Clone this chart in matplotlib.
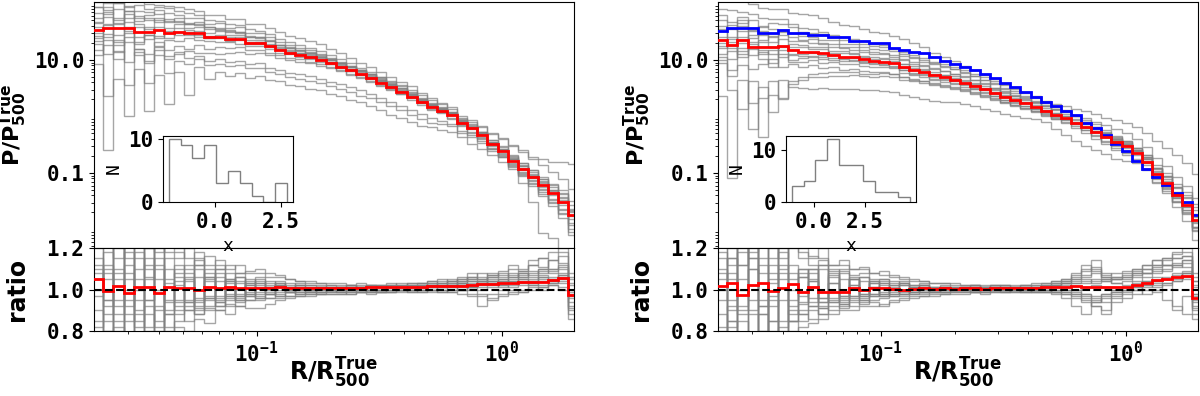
import numpy as np
import matplotlib
matplotlib.use("Agg")
import matplotlib.pyplot as plt
from matplotlib.ticker import FormatStrFormatter, LogLocator, NullFormatter

# --- bins radiaux (R/R500), 48 bins log ---
bords_r = np.geomspace(0.0216, 2.045, 49)

# profils moyens (P/P500)
rouge_g = [33.9, 36.3, 36.3, 36.3, 30.9, 30.9, 33.9, 29.5,
           30.9, 30.2, 29.5, 25.7, 25.7, 23.4, 23.4, 20.0,
           20.0, 17.4, 15.1, 13.5, 12.3, 11.2, 10.0, 8.71,
           7.59, 6.61, 5.62, 4.79, 3.98, 3.31, 2.75, 2.24,
           1.82, 1.48, 1.26, 1.07, 0.776, 0.617, 0.468, 0.324,
           0.240, 0.166, 0.120, 0.0851, 0.0617, 0.0437, 0.0309, 0.0182]
rouge_d = [22.6, 18.4, 22.6, 17.2, 16.8, 16.8, 17.8, 15.1,
           14.1, 14.1, 13.2, 12.3, 11.5, 11.2, 10.2, 9.55,
           9.33, 8.71, 7.41, 6.61, 6.03, 5.37, 4.90, 4.47,
           3.98, 3.47, 3.02, 2.63, 2.24, 1.95, 1.70, 1.48,
           1.26, 1.07, 0.933, 0.776, 0.646, 0.537, 0.437, 0.355,
           0.295, 0.224, 0.158, 0.0977, 0.0661, 0.0407, 0.0269, 0.0148]
bleu_d = [33.1, 36.3, 36.3, 36.3, 30.2, 30.2, 33.9, 29.5,
          29.5, 27.5, 27.5, 25.1, 25.1, 21.9, 21.9, 20.0,
          20.0, 16.2, 15.1, 14.1, 13.2, 11.5, 9.77, 8.51,
          7.59, 6.61, 5.62, 4.79, 3.98, 3.31, 2.75, 2.24,
          1.82, 1.55, 1.26, 1.07, 0.776, 0.617, 0.468, 0.324,
          0.240, 0.166, 0.120, 0.0851, 0.0617, 0.0437, 0.0309, 0.0182]

# rapports moyens
ratio_rouge_g = [1.05, 0.993, 1.018, 0.985, 1.01, 1.01, 0.982, 1.01,
                 1.005, 1.005, 1.0, 1.01, 1.005, 1.01, 1.005, 1.008,
                 1.005, 1.005, 1.01, 1.005, 1.005, 1.005, 1.005, 1.005,
                 1.005, 1.005, 1.005, 1.01, 1.01, 1.01, 1.012, 1.012,
                 1.012, 1.015, 1.015, 1.018, 1.018, 1.02, 1.025, 1.028,
                 1.03, 1.03, 1.035, 1.037, 1.037, 1.045, 1.055, 0.974]
ratio_rouge_d = [1.016, 1.033, 0.975, 1.02, 1.033, 0.992, 1.008, 1.025,
                 0.99, 1.01, 0.99, 0.99, 0.99, 1.008, 0.997, 1.008,
                 1.008, 1.003, 1.0, 1.003, 1.005, 1.003, 1.005, 1.003,
                 1.005, 1.005, 1.003, 1.005, 1.008, 1.008, 1.005, 1.008,
                 1.01, 1.01, 1.012, 1.016, 1.012, 1.012, 1.012, 1.01,
                 1.012, 1.02, 1.033, 1.046, 1.052, 1.062, 1.066, 0.96]

# profils individuels : ecart au profil rouge en centiemes de dex
ecarts_g = [
    [30, 25, 34, 18, 28, 22, 15, 26, 20, 18, 15, 17, 12, 14, 10, 11, 9, 10, 8, 9, 7, 8, 6, 7,
     6, 5, 6, 5, 4, 5, 4, 5, 4, 5, 6, 5, 6, 7, 6, 8, 9, 8, 10, 12, 11, 14, 13, 18],
    [12, 20, 8, 25, 15, 5, 22, 10, 14, 8, 12, 6, 10, 7, 8, 5, 6, 4, 5, 3, 4, 3, 4, 3,
     3, 2, 3, 2, 3, 2, 2, 3, 2, 3, 4, 3, 4, 3, 5, 4, 5, 4, 6, 5, 7, 6, 8, 9],
    [-5, 8, -12, 2, -8, 10, -15, 0, -4, 2, -6, -2, 0, -3, -1, -2, -1, -2, 0, -1, 0, -1, 0, -1,
     0, -1, 0, 0, 1, 0, 1, 0, 1, 0, 1, 2, 1, 2, 3, 2, 3, 2, 4, 3, 5, 4, 6, 5],
    [-20, -10, -25, -8, -18, -5, -28, -12, -15, -10, -12, -8, -10, -6, -8, -5, -6, -4, -5, -3, -4, -3, -3, -2,
     -3, -2, -2, -2, -1, -2, -1, -1, -2, -1, -2, -1, -3, -2, -3, -4, -5, -4, -6, -8, -7, -10, -12, -15],
    [40, 32, 45, 30, 38, 35, 28, 36, 30, 26, 28, 22, 24, 20, 21, 18, 17, 16, 14, 13, 12, 12, 10, 10,
     9, 8, 8, 7, 7, 6, 6, 5, 5, 4, 5, 4, 3, 4, 3, 2, 2, 3, 1, 2, 3, 5, 4, 6],
    [-35, -20, -42, -15, -30, -38, -22, -30, -25, -28, -20, -22, -18, -16, -14, -13, -12, -11, -10, -9, -8, -8, -7, -7,
     -6, -6, -5, -5, -4, -4, -4, -3, -3, -4, -3, -5, -4, -6, -5, -7, -8, -9, -11, -13, -16, -18, -22, -26],
    [22, 38, 15, 40, 25, 30, 35, 20, 25, 15, 20, 18, 14, 16, 12, 13, 11, 10, 9, 8, 8, 7, 7, 6,
     6, 5, 5, 4, 4, 3, 3, 2, 2, 1, 2, 1, 0, 1, 0, -1, -2, -1, -3, -2, -4, -3, -6, -8],
    [5, -15, 18, -5, 10, -12, 5, -8, 8, -4, 5, -2, 4, -1, 3, 0, 2, 1, 2, 1, 1, 2, 1, 2,
     1, 2, 1, 2, 2, 3, 2, 3, 3, 4, 3, 5, 4, 6, 5, 7, 8, 10, 9, 12, 14, 16, 20, 24],
    [50, 45, 55, 38, 48, 42, 40, 45, 38, 35, 33, 30, 28, 27, 25, 24, 22, 21, 20, 18, 17, 16, 15, 14,
     13, 12, 11, 10, 9, 8, 7, 6, 5, 6, 5, 4, 3, 3, 2, 2, 1, 2, 0, 1, -1, 0, -2, -3],
    [-45, -30, -55, -25, -40, -50, -35, -45, -38, -32, -35, -28, -30, -25, -22, -20, -18, -16, -15, -13, -12, -11, -10, -9,
     -8, -8, -7, -7, -6, -6, -5, -5, -5, -6, -4, -7, -6, -8, -7, -9, -10, -12, -14, -16, -19, -22, -28, -35],
    [-60, -215, -90, -155, -65, -140, -80, -125, -70, -110, -60, -75, -62, -66, -60, -62, -58, -60, -56, -58, -55, -56, -54, -55,
     -52, -53, -50, -50, -48, -49, -46, -44, -42, -36, -34, -30, -25, -28, -24, -20, -18, -15, -25, -45, -85, -80, -120, -150],
    [-25, -120, -40, -100, -30, -90, -45, -70, -50, -55, -45, -50, -48, -47, -46, -45, -44, -45, -43, -44, -42, -43, -41, -40,
     -40, -38, -38, -36, -35, -34, -33, -32, -30, -28, -24, -20, -18, -16, -14, -12, -10, -8, -9, -10, -12, -15, -20, -30],
    [-10, -45, -20, -60, -35, -55, -30, -40, -35, -45, -40, -42, -40, -41, -39, -38, -36, -38, -35, -36, -34, -34, -33, -33,
     -30, -30, -29, -28, -27, -26, -25, -24, -22, -20, -18, -16, -14, -12, -10, -8, -7, -6, -8, -6, -9, -12, -14, -18],
    [40, 50, 45, 55, 55, 50, 45, 48, 45, 42, 40, 38, 38, 36, 35, 34, 33, 32, 31, 30, 30, 29, 28, 26,
     24, 22, 20, 19, 18, 18, 17, 19, 16, 15, 12, 10, 9, 12, 15, 18, 22, 28, 32, 36, 45, 55, 70, 90],
    [15, 28, 10, 30, 20, 25, 18, 22, 18, 16, 17, 14, 15, 12, 13, 11, 10, 11, 9, 10, 8, 9, 8, 8,
     7, 8, 7, 8, 9, 10, 11, 12, 12, 13, 14, 13, 12, 14, 16, 20, 24, 26, 30, 32, 35, 38, 40, 45],
    [-15, 5, -30, 12, -20, -5, -10, 5, 0, 5, -3, 2, -2, 3, 0, 1, 2, 3, 3, 4, 4, 5, 5, 6,
     5, 6, 7, 8, 8, 9, 10, 8, 7, 5, 4, 3, 2, 1, 2, 3, 4, 6, 5, 8, 10, 12, 15, 10],
]
ecarts_d = [
    [70, 78, 72, 75, 70, 68, 65, 66, 66, 64, 62, 58, 56, 55, 54, 52, 50, 49, 50, 48, 45, 40, 36, 33,
     30, 28, 26, 24, 22, 21, 20, 19, 18, 20, 22, 25, 28, 31, 34, 38, 42, 46, 50, 58, 62, 70, 75, 82],
    [55, 62, 50, 58, 52, 50, 48, 45, 42, 40, 38, 36, 35, 33, 32, 30, 29, 28, 27, 26, 25, 24, 24, 23,
     22, 22, 21, 20, 20, 19, 18, 17, 16, 15, 14, 12, 10, 9, 8, 7, 6, 5, 8, 10, 12, 15, 18, 22],
    [-100, -235, -70, -145, -90, -60, -95, -55, -45, -40, -35, -30, -28, -26, -25, -22, -20, -18, -17, -16, -15, -14, -13, -12,
     -12, -11, -10, -10, -9, -9, -8, -8, -7, -7, -6, -6, -5, -6, -7, -8, -9, -10, -12, -15, -18, -22, -28, -35],
    [-40, -80, -123, -60, -158, -85, -92, -60, -50, -45, -42, -38, -35, -32, -30, -28, -26, -24, -22, -20, -19, -18, -17, -16,
     -15, -14, -13, -12, -11, -10, -10, -9, -9, -8, -9, -10, -11, -12, -13, -14, -15, -14, -12, -10, -8, -10, -12, -15],
    [-30, -55, -45, -100, -70, -115, -60, -65, -64, -66, -62, -60, -58, -56, -54, -52, -52, -50, -49, -48, -47, -45, -43, -40,
     -38, -36, -34, -32, -30, -28, -26, -22, -20, -25, -30, -32, -34, -32, -31, -30, -25, -18, -12, -8, -6, -5, -8, -12],
    [35, 28, 40, 30, 38, 32, 26, 30, 28, 25, 24, 26, 23, 24, 22, 22, 21, 22, 20, 21, 19, 20, 18, 19,
     17, 18, 16, 17, 15, 16, 14, 15, 14, 13, 12, 11, 10, 9, 7, 5, 2, 0, -2, -4, -5, -4, -3, 0],
    [20, 35, 15, 28, 22, 18, 25, 15, 18, 15, 16, 14, 15, 13, 14, 12, 13, 12, 13, 11, 12, 11, 12, 10,
     11, 10, 11, 9, 10, 9, 10, 8, 9, 8, 7, 6, 5, 4, 3, 2, 1, 3, 5, 8, 10, 12, 15, 18],
    [5, 15, -5, 20, 10, 0, 12, 5, 8, 5, 7, 4, 6, 5, 5, 4, 5, 4, 5, 3, 4, 3, 4, 3,
     3, 4, 3, 4, 3, 3, 2, 3, 2, 3, 4, 5, 6, 6, 7, 8, 9, 10, 12, 10, 8, 6, 4, 5],
    [-10, 5, -20, 8, -5, -12, 0, -8, -5, -2, -4, 0, -3, -1, -2, 0, -1, 0, -1, 0, 0, 1, 0, 1,
     0, 1, 0, 1, 1, 0, 1, 0, 0, -1, 0, -1, 0, 1, 2, 3, 5, 6, 4, 2, 0, -2, -4, -6],
    [-25, -10, -30, -5, -20, -28, -15, -22, -18, -15, -17, -13, -14, -12, -12, -10, -10, -9, -10, -8, -9, -8, -8, -7,
     -7, -6, -6, -5, -5, -4, -4, -3, -3, -2, -2, -1, 0, 0, 1, 2, 3, 4, 2, 0, -2, -5, -8, -12],
    [15, -5, 25, 0, 12, 20, -8, 10, 12, 8, 10, 7, 9, 8, 7, 8, 7, 8, 6, 7, 6, 6, 5, 6,
     5, 5, 6, 6, 7, 7, 8, 8, 9, 10, 11, 12, 12, 13, 12, 11, 10, 9, 7, 5, 3, 1, 0, -3],
    [-35, -45, -15, -40, -30, -20, -38, -25, -28, -24, -26, -22, -23, -21, -20, -19, -19, -18, -18, -17, -16, -16, -15, -14,
     -14, -13, -12, -11, -10, -9, -8, -7, -6, -5, -4, -3, -2, -1, 0, 2, 4, 6, 8, 10, 12, 14, 12, 10],
    [45, 40, 30, 48, 35, 42, 38, 40, 35, 33, 34, 31, 30, 29, 28, 27, 26, 25, 24, 23, 22, 21, 20, 19,
     18, 17, 16, 15, 14, 13, 12, 11, 10, 11, 12, 14, 16, 18, 20, 22, 24, 25, 26, 28, 30, 32, 34, 38],
    [-5, -25, 5, -15, -8, -35, -2, -18, -12, -8, -10, -6, -8, -5, -6, -4, -4, -5, -4, -5, -3, -4, -3, -3,
     -2, -3, -2, -2, -1, -1, 0, -1, 0, -1, -2, -3, -5, -7, -9, -11, -12, -14, -15, -16, -14, -12, -15, -20],
    [25, 10, 35, 15, 28, 10, 20, 22, 20, 22, 18, 19, 17, 18, 16, 16, 15, 15, 14, 14, 13, 12, 12, 11,
     10, 10, 9, 8, 8, 7, 6, 6, 5, 4, 3, 2, 1, 0, -1, -2, -3, -4, -6, -8, -10, -12, -14, -18],
    [-15, 0, -25, 5, -12, -5, -20, -10, -8, -10, -6, -9, -5, -7, -4, -6, -6, -7, -5, -6, -5, -6, -5, -6,
     -5, -6, -5, -6, -5, -5, -4, -4, -4, -3, -2, -1, 0, 1, 3, 5, 7, 9, 12, 15, 18, 20, 24, 28],
]

# rapports individuels : ecart a 1 en pourcent
rapports_g = [
    [15, -8, 22, -12, 18, -5, 25, -10, 12, -6, 14, -4, 10, -3, 8, -2, 6, -1, 4, 1, 3, 2, 2, 1,
     1, 2, 1, 1, 2, 1, 2, 1, 2, 3, 2, 4, 3, 5, 4, 6, 5, 7, 6, 8, 9, 8, 10, -4],
    [-18, 12, -25, 8, -15, 20, -10, 15, -10, 8, -12, 6, -8, 5, -5, 4, -4, 3, -3, 2, -2, -1, -2, 0,
     -1, 0, -1, 0, 0, 1, 0, 1, 1, 2, 1, 2, 3, 2, 3, 4, 3, 4, 5, 4, 6, 5, 7, -8],
    [5, 25, -5, 18, 0, -20, 12, -6, 4, -10, 10, -8, 6, -5, 4, -3, 3, -2, 2, -1, 1, 0, 1, 0,
     0, 1, 0, -1, 0, 1, 1, 2, 1, 2, 2, 3, 2, 4, 3, 5, 4, 6, 8, 7, 10, 9, 12, 2],
    [-30, -15, 10, -25, 5, -12, -22, 3, -8, -15, -4, -10, -6, -8, -4, -5, -3, -4, -2, -3, -1, -2, -1, -1,
     -1, -2, -1, 0, -1, 0, 0, -1, 0, 1, 0, 1, 2, 1, 2, 3, 2, 3, 4, 3, 5, 4, 6, -12],
    [20, 30, 15, 28, 22, 10, 30, 18, 15, 20, 12, 16, 10, 12, 8, 9, 10, 8, 7, 5, 4, 3, 3, 2,
     2, 2, 1, 2, 1, 2, 2, 3, 3, 4, 5, 4, 6, 5, 8, 7, 9, 12, 10, 14, 15, 18, 20, 5],
    [-10, -28, -18, -30, -12, -25, -8, -20, -15, -10, -12, -9, -10, -7, -8, -5, -5, -4, -4, -3, -3, -2, -2, -2,
     -2, -1, -1, -2, -1, -1, 0, -1, -1, 0, -1, 0, 1, 0, -2, -5, -3, -1, 0, 2, 1, 3, 4, -10],
    [8, -5, 5, -15, 25, 6, -18, 10, 6, 4, -6, 8, -4, 5, -3, 3, 2, 1, 2, 0, 1, 0, 1, 1,
     1, 1, 2, 2, 1, 2, 1, 2, 2, 3, 3, 4, 4, 6, 5, 7, 6, 8, 7, 9, 8, 10, 11, -2],
    [-3, 10, -8, 5, -22, 15, 0, -12, 2, -5, 6, -3, 4, -2, 3, -1, 1, 0, 1, -1, 0, 1, 0, 0,
     0, 0, 1, 0, 1, 0, 1, 1, 1, 1, 2, 2, 3, 3, 4, 4, 5, 4, 6, 5, 7, 6, 8, 0],
    [28, 5, 20, -5, 10, 25, 5, 22, 18, 10, 12, 5, 8, 4, 6, 3, 4, 2, 3, 1, 2, 1, 1, 1,
     1, 0, 1, 1, 0, 1, 1, 0, 1, 2, 1, 2, 5, 8, 6, 4, 3, 5, 8, 6, 10, 14, 16, 8],
    [-22, -5, -28, 0, -18, -8, -25, -12, -12, -6, -9, -4, -6, -3, -5, -2, -2, -2, -1, -1, -1, -1, 0, -1,
     0, -1, 0, 0, -1, 0, 0, 0, 0, 0, 1, 1, 0, 1, 1, 2, 1, 2, 2, 3, 2, 4, 3, -6],
    [12, -20, 30, -8, 15, -18, 20, -25, 10, -8, 15, -5, 12, -4, 6, -3, 5, -2, 3, -1, 2, -1, 1, 0,
     1, 0, 1, 0, 1, 1, 1, 1, 2, 1, 3, 2, 3, 2, 4, 3, 4, 3, 5, 4, 6, 5, 7, -1],
    [0, 18, -12, 25, -5, 12, -15, 5, -5, 6, -8, 10, -5, 4, -3, 2, -1, 1, 0, 1, 0, 0, -1, 0,
     0, 1, 0, 0, 0, -1, 0, 0, -1, 0, 0, -1, -2, -3, -8, -4, -2, 0, -1, 1, 0, 2, 1, -14],
    [35, 22, 28, 15, 30, 20, 18, 25, 20, 15, 18, 12, 14, 10, 12, 8, 8, 6, 6, 5, 4, 4, 3, 3,
     3, 2, 3, 2, 2, 3, 2, 3, 3, 4, 3, 5, 4, 6, 5, 8, 7, 10, 9, 12, 11, 14, 13, 3],
    [-35, -20, -15, -28, -25, -30, -20, -28, -18, -20, -14, -16, -10, -12, -8, -9, -9, -7, -5, -4, -3, -3, -2, -2,
     -2, -2, -1, -1, -1, -1, -1, 0, 0, -1, 0, -1, 0, 1, 0, 1, 2, 1, 3, 2, 4, 3, 5, -3],
    [10, -12, 8, 22, -10, 5, 15, -5, 8, 12, -5, 6, -3, 8, -2, 5, 3, 4, 2, 3, 2, 2, 1, 2,
     1, 2, 1, 2, 2, 2, 3, 2, 3, 2, 4, 3, 5, 4, 3, 6, 8, 6, 9, 12, 15, 10, 18, 6],
    [-15, 8, -20, 12, -25, -5, 10, -18, -6, 5, -10, 4, -8, 3, -6, 2, -4, 1, -3, 0, -2, 0, -1, 0,
     -1, 0, 0, -1, 0, 0, 0, 0, 0, 0, -1, 0, 0, -2, -3, -2, 0, -2, -1, 0, 1, 2, 0, -9],
]
rapports_d = [
    [18, -10, 25, -5, 12, -15, 20, -8, 10, -6, 12, -4, 8, -3, 6, -2, 5, -3, 4, -2, 3, -1, 2, 0,
     1, 1, 0, 1, 1, 0, 1, 1, 2, 3, 4, 6, 10, 14, 6, 3, 2, 4, 6, 8, 10, 12, 14, -5],
    [-20, 15, -10, 22, -25, 8, -15, 12, -12, 10, -8, 6, -6, 5, -4, 3, -3, 2, -2, 1, -1, 0, -1, 0,
     0, -1, 0, 0, -1, 0, 0, -1, -1, -2, -4, -8, -12, -6, -3, -1, 0, 2, 4, 3, 6, 5, 8, -10],
    [5, 28, 0, 15, -8, 20, 5, -12, 6, -4, 10, -6, 5, -3, 4, -2, 2, -1, 2, -1, 1, 0, 1, 0,
     1, 0, 1, 0, 1, 1, 1, 0, 1, 2, 3, 4, 5, 3, 4, 5, 5, 7, 8, 10, 9, 12, 11, 1],
    [-30, -18, 5, -22, -12, -28, -5, -25, -15, -10, -12, -8, -9, -6, -7, -5, -4, -3, -3, -2, -2, -1, -1, -1,
     -1, 0, -1, 0, 0, -1, 0, 0, 0, -1, -2, -3, -5, -8, -10, -4, -2, 0, 2, 1, 3, -8, -12, -14],
    [25, 12, 30, 18, 28, 15, 22, 30, 18, 15, 20, 12, 14, 10, 11, 8, 9, 7, 6, 5, 4, 3, 3, 2,
     2, 2, 1, 2, 2, 1, 2, 2, 3, 4, 5, 8, 12, 9, 6, 5, 6, 8, 10, 12, 14, 15, 16, 6],
    [-12, -25, -15, -30, -8, -22, -18, -10, -12, -14, -9, -10, -7, -8, -5, -6, -8, -5, -4, -3, -3, -2, -2, -1,
     -1, -1, -2, -1, -1, 0, -1, -1, -1, 0, 1, 0, -2, -4, -6, -3, 0, 1, 2, 4, 5, 7, 8, -6],
    [10, -5, 18, 2, 30, -8, 12, 5, 8, 5, -4, 7, -3, 5, -2, 4, 3, 2, 3, 1, 2, 1, 1, 1,
     1, 2, 1, 2, 1, 1, 1, 2, 2, 2, 3, 3, 4, 5, 4, 5, 6, 9, 8, 11, 12, 13, 14, 2],
    [-5, 8, -12, 10, -20, 5, -25, 0, -3, 4, -6, 3, -4, 2, -3, 1, -1, 0, -1, 0, -1, 0, 0, 0,
     0, 0, 0, 1, 0, 0, 1, 0, 0, 1, 0, -1, -3, -5, -2, 0, 1, 3, 4, 6, 5, 8, 9, -2],
    [30, 20, 12, 28, 8, 25, 15, 20, 15, 12, 14, 9, 10, 7, 8, 5, 5, 4, 3, 2, 2, 1, 1, 1,
     1, 1, 1, 0, 1, 1, 0, 1, 1, 2, 3, 5, 7, 10, 5, 3, 4, 6, 8, 12, 15, 17, 18, 8],
    [-25, -8, -30, -12, -20, -5, -28, -15, -10, -8, -12, -5, -7, -4, -6, -3, -2, -2, -2, -1, -1, -1, -1, 0,
     0, 0, -1, 0, 0, 0, -1, 0, 0, -1, -1, -2, -2, -3, -2, -1, 0, 1, -2, 0, -5, -10, -3, -8],
    [15, -22, 22, -10, 15, -20, 25, -15, 10, -8, 12, -6, 9, -5, 6, -3, 4, -2, 3, -1, 2, -1, 1, 0,
     0, 1, 0, 1, 0, 1, 0, 1, 1, 2, 2, 3, 3, 4, 5, 6, 7, 8, 10, 9, 12, 11, 13, -3],
    [0, 15, -8, 25, -5, 12, -20, 8, -6, 8, -6, 10, -5, 5, -3, 3, -2, 1, 0, 1, 0, 0, 0, 0,
     0, 0, 1, 0, 0, -1, 0, 0, 0, -1, -2, -4, -6, -8, -12, -6, -4, -2, 0, -1, 2, 4, 5, -12],
    [35, 25, 20, 15, 22, 30, 10, 28, 20, 16, 15, 12, 12, 10, 10, 8, 7, 6, 5, 4, 4, 3, 3, 3,
     2, 2, 2, 2, 2, 2, 2, 3, 3, 4, 5, 7, 9, 11, 8, 6, 8, 10, 12, 14, 15, 18, 20, 4],
    [-35, -15, -22, -25, -30, -15, -25, -20, -18, -16, -14, -12, -10, -10, -8, -8, -7, -6, -5, -4, -3, -3, -2, -2,
     -2, -1, -1, -1, -1, 0, -1, 0, 0, 0, -1, -2, -4, -6, -4, -2, -1, 0, 1, 2, 3, 4, 6, -9],
    [8, -15, 12, 20, -12, 3, 18, -5, 6, 10, -4, 8, -3, 6, -2, 4, 3, 3, 2, 2, 2, 1, 1, 1,
     1, 2, 1, 1, 2, 1, 2, 1, 2, 3, 4, 5, 6, 8, 7, 8, 9, 10, 12, 14, 12, 15, 16, 4],
    [-18, 5, -25, 10, -22, -3, 8, -15, -7, 4, -9, 3, -8, 2, -5, 1, -3, 0, -2, 0, -1, 0, -1, 0,
     0, -1, 0, 0, 0, 0, 0, -1, -1, -1, 0, 0, 1, 2, 1, 0, 1, 2, 3, 4, 5, 6, 8, -2],
]

# histogrammes des encarts
bords_x_g = [-1.73, -1.28, -0.84, -0.39, 0.05, 0.50, 0.95, 1.39, 1.84, 2.28, 2.73]
n_g = [10, 9, 7, 9, 3, 5, 3, 1, 0, 3]
bords_x_d = [-1.05, -0.48, 0.09, 0.67, 1.24, 1.81, 2.38, 2.95, 3.53, 4.10, 4.67]
n_d = [3, 4, 8, 12, 7, 7, 4, 2, 2, 1]

plt.rcParams["font.family"] = "monospace"
plt.rcParams["font.monospace"] = ["DejaVu Sans Mono"]
plt.rcParams["font.weight"] = "bold"
plt.rcParams["font.size"] = 15
plt.rcParams["mathtext.fontset"] = "dejavusans"

fig = plt.figure(figsize=(12, 3.96), dpi=100)

panneaux = [
    (0.0783, rouge_g, None, ecarts_g, ratio_rouge_g, rapports_g, bords_x_g, n_g, 0.1358),
    (0.5983, rouge_d, bleu_d, ecarts_d, ratio_rouge_d, rapports_d, bords_x_d, n_d, 0.655),
]

for x0, rouge, bleu, ecarts, r_rouge, rapports, bx, nx, x_enc in panneaux:
    ax = fig.add_axes([x0, 0.3737, 0.4, 0.6212])
    axr = fig.add_axes([x0, 0.1641, 0.4, 0.2096], sharex=ax)

    # --- profils ---
    for e in ecarts:
        vals = np.array(rouge) * 10 ** (np.array(e) / 100.0)
        ax.stairs(vals, bords_r, baseline=None, color="gray", lw=1, alpha=0.7)
    if bleu is not None:
        ax.stairs(bleu, bords_r, baseline=None, color="blue", lw=2, zorder=5)
    ax.stairs(rouge, bords_r, baseline=None, color="red", lw=2, zorder=6)
    ax.set_xscale("log")
    ax.set_yscale("log")
    ax.set_xlim(0.02175, 1.962)
    ax.set_ylim(0.0047, 106)
    ax.set_yticks([0.1, 10])
    ax.yaxis.set_major_formatter(FormatStrFormatter("%.1f"))
    ax.yaxis.set_minor_locator(LogLocator(base=10, subs=np.arange(2, 10)))
    ax.yaxis.set_minor_formatter(NullFormatter())
    ax.tick_params(axis="x", which="both", bottom=False, labelbottom=False)
    ax.set_ylabel(r"$\mathbf{P/P^{True}_{500}}$", fontsize=16)
    ax.yaxis.set_label_coords(-0.135, 0.5)

    # --- rapports ---
    for r in rapports:
        axr.stairs(1 + np.array(r) / 100.0, bords_r, baseline=None, color="gray", lw=1, alpha=0.7)
    axr.stairs(r_rouge, bords_r, baseline=None, color="red", lw=2, zorder=5)
    axr.axhline(1.0, color="black", ls="--", lw=1.5, zorder=6)
    axr.set_ylim(0.8, 1.2)
    axr.set_yticks([0.8, 1.0, 1.2])
    axr.yaxis.set_major_formatter(FormatStrFormatter("%.1f"))
    axr.set_ylabel("ratio", family="DejaVu Sans", fontweight="bold", fontsize=17)
    axr.yaxis.set_label_coords(-0.135, 0.5)
    axr.set_xlabel(r"$\mathbf{R/R^{True}_{500}}$", fontsize=17)
    axr.xaxis.set_label_coords(0.5, -0.30)

    # --- encart histogramme ---
    axi = fig.add_axes([x_enc, 0.4899, 0.1083, 0.1667])
    axi.stairs(nx, bx, color="gray", lw=1)
    axi.set_xticks([0.0, 2.5])
    axi.xaxis.set_major_formatter(FormatStrFormatter("%.1f"))
    axi.set_yticks([0, 10])
    axi.set_xlabel("x", fontsize=13)
    axi.set_ylabel("N", fontsize=13)

fig.savefig("out.png", dpi=100)
